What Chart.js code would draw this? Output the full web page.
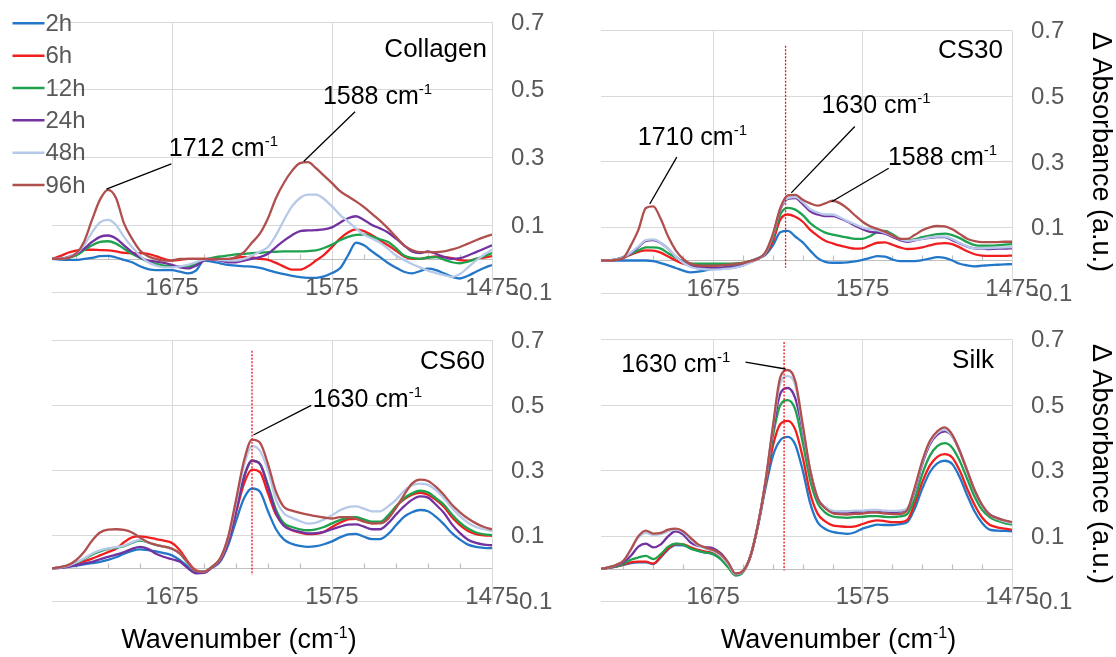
<!DOCTYPE html>
<html>
<head>
<meta charset="utf-8">
<title>FTIR difference spectra</title>
<script src="https://cdn.jsdelivr.net/npm/chart.js@4.4.1/dist/chart.umd.min.js"></script>
<style>
  html, body { margin: 0; padding: 0; background: #ffffff; }
  #figure { position: relative; width: 1116px; height: 657px; overflow: hidden; }
  #figure canvas { position: absolute; }
</style>
</head>
<body>
<div id="figure">
  <canvas id="collagen" width="558" height="320" style="left:0px; top:0px;"></canvas>
  <canvas id="cs30" width="558" height="320" style="left:558px; top:0px;"></canvas>
  <canvas id="cs60" width="558" height="337" style="left:0px; top:320px;"></canvas>
  <canvas id="silk" width="558" height="337" style="left:558px; top:320px;"></canvas>
</div>
<script>
const wavenumbers = [
  1750, 1745, 1740, 1735, 1730, 1725, 1720, 1715, 1710, 1705,
  1700, 1695, 1690, 1685, 1680, 1675, 1670, 1665, 1660, 1655,
  1650, 1645, 1640, 1635, 1630, 1625, 1620, 1615, 1610, 1605,
  1600, 1595, 1590, 1585, 1580, 1575, 1570, 1565, 1560, 1555,
  1550, 1545, 1540, 1535, 1530, 1525, 1520, 1515, 1510, 1505,
  1500, 1495, 1490, 1485, 1480, 1475
];

const seriesLabels = ['2h', '6h', '12h', '24h', '48h', '96h'];
const xTicks = [1475, 1575, 1675];
const yTicks = [-0.1, 0.1, 0.3, 0.5, 0.7];
const minorTicks = [1495, 1515, 1535, 1555, 1595, 1615, 1635, 1655, 1695, 1715, 1735];

// Collagen
const collagen2h = [
  0, -0.002, -0.003, -0.003, 0, 0.003, 0.008, 0.009, 0.004, -0.003,
  -0.01, -0.022, -0.03, -0.033, -0.033, -0.033, -0.038, -0.043, -0.035, -0.005,
  -0.008, -0.013, -0.018, -0.02, -0.022, -0.023, -0.027, -0.033, -0.04, -0.045,
  -0.05, -0.054, -0.056, -0.056, -0.052, -0.042, -0.028, 0.01, 0.048, 0.04,
  0.022, 0.005, -0.012, -0.026, -0.038, -0.043, -0.036, -0.029, -0.033, -0.043,
  -0.053, -0.058, -0.05, -0.038, -0.027, -0.018
];
const collagen6h = [
  0, 0.008, 0.018, 0.024, 0.027, 0.027, 0.026, 0.025, 0.022, 0.018,
  0.017, 0.017, 0.015, 0.008, 0, -0.005, -0.003, 0, 0, 0,
  -0.002, -0.003, -0.002, 0.003, 0.006, 0.004, 0, -0.003, -0.012, -0.023,
  -0.032, -0.032, -0.022, -0.005, 0.012, 0.035, 0.06, 0.078, 0.087, 0.082,
  0.07, 0.055, 0.04, 0.024, 0.007, 0, 0, 0.004, 0.007, 0.006,
  0.002, -0.004, -0.006, 0, 0.004, 0.008
];
const collagen12h = [
  0, 0, 0.003, 0.01, 0.025, 0.04, 0.05, 0.052, 0.045, 0.03,
  0.015, 0.003, -0.008, -0.015, -0.02, -0.022, -0.023, -0.022, -0.015, -0.003,
  0.003, 0.007, 0.01, 0.013, 0.015, 0.017, 0.018, 0.02, 0.021, 0.022,
  0.022, 0.022, 0.023, 0.025, 0.032, 0.042, 0.055, 0.065, 0.071, 0.072,
  0.066, 0.058, 0.05, 0.032, 0.01, 0.003, 0, 0.004, 0.005, -0.002,
  -0.01, -0.013, -0.008, 0, 0.008, 0.017
];
const collagen24h = [
  0, 0, 0.005, 0.015, 0.03, 0.05, 0.065, 0.069, 0.06, 0.04,
  0.02, 0.005, -0.005, -0.008, -0.012, -0.018, -0.025, -0.028, -0.02, -0.005,
  0, -0.005, -0.01, -0.01, -0.005, 0, 0.005, 0.015, 0.035, 0.054,
  0.07, 0.082, 0.084, 0.085, 0.087, 0.093, 0.107, 0.12, 0.126, 0.115,
  0.1, 0.09, 0.078, 0.06, 0.04, 0.022, 0.017, 0.022, 0.015, 0.005,
  0, 0.002, 0.01, 0.02, 0.03, 0.04
];
const collagen48h = [
  0, 0, 0.004, 0.015, 0.04, 0.078, 0.108, 0.115, 0.1, 0.065,
  0.035, 0.01, -0.01, -0.02, -0.025, -0.025, -0.022, -0.018, -0.01, -0.002,
  0, -0.003, -0.005, -0.005, 0, 0.01, 0.022, 0.035, 0.07, 0.115,
  0.155, 0.18, 0.19, 0.19, 0.177, 0.155, 0.13, 0.11, 0.09, 0.072,
  0.06, 0.048, 0.03, 0.01, -0.003, -0.015, -0.025, -0.035, -0.042, -0.048,
  -0.053, -0.045, -0.025, -0.005, 0.012, 0.027
];
const collagen96h = [
  0, 0, 0.002, 0.015, 0.05, 0.115, 0.175, 0.204, 0.18, 0.105,
  0.06, 0.025, 0.008, 0, -0.005, -0.005, 0, 0, 0, 0,
  0, 0, 0, 0.005, 0.02, 0.048, 0.075, 0.12, 0.18, 0.225,
  0.26, 0.283, 0.286, 0.268, 0.246, 0.224, 0.2, 0.185, 0.17, 0.153,
  0.133, 0.113, 0.09, 0.065, 0.04, 0.026, 0.02, 0.02, 0.02, 0.022,
  0.028, 0.035, 0.045, 0.055, 0.064, 0.072
];

// CS30
const cs30_2h = [
  0, 0, 0, 0, 0, 0, 0, -0.002, -0.008, -0.015,
  -0.023, -0.031, -0.036, -0.034, -0.03, -0.026, -0.023, -0.019, -0.015, -0.01,
  -0.002, 0.007, 0.017, 0.046, 0.086, 0.09, 0.073, 0.055, 0.03, 0.007,
  -0.004, -0.007, -0.007, -0.006, -0.003, 0.002, 0.008, 0.013, 0.012, 0.003,
  -0.002, -0.002, -0.002, 0.001, 0.006, 0.01, 0.008, 0, -0.01, -0.015,
  -0.018, -0.016, -0.014, -0.013, -0.012, -0.011
];
const cs30_6h = [
  0, 0, 0.002, 0.008, 0.018, 0.026, 0.031, 0.03, 0.024, 0.012,
  0, -0.01, -0.015, -0.016, -0.016, -0.015, -0.014, -0.012, -0.01, -0.007,
  -0.002, 0.005, 0.02, 0.058, 0.125, 0.14, 0.133, 0.118, 0.093, 0.075,
  0.06, 0.052, 0.045, 0.04, 0.036, 0.037, 0.046, 0.054, 0.055, 0.048,
  0.04, 0.035, 0.036, 0.04, 0.046, 0.051, 0.053, 0.05, 0.04, 0.028,
  0.019, 0.015, 0.014, 0.014, 0.014, 0.015
];
const cs30_12h = [
  0, 0, 0.003, 0.01, 0.02, 0.031, 0.04, 0.04, 0.036, 0.022,
  0.008, -0.002, -0.009, -0.01, -0.01, -0.01, -0.01, -0.01, -0.01, -0.007,
  -0.002, 0.005, 0.022, 0.068, 0.14, 0.16, 0.155, 0.138, 0.114, 0.097,
  0.085, 0.079, 0.074, 0.07, 0.066, 0.066, 0.074, 0.087, 0.09, 0.08,
  0.066, 0.061, 0.065, 0.071, 0.076, 0.08, 0.082, 0.077, 0.068, 0.056,
  0.047, 0.045, 0.045, 0.046, 0.048, 0.05
];
const cs30_24h = [
  0, 0, 0.003, 0.01, 0.022, 0.041, 0.06, 0.062, 0.053, 0.035,
  0.012, -0.005, -0.017, -0.021, -0.022, -0.022, -0.022, -0.021, -0.02, -0.015,
  -0.005, 0.005, 0.023, 0.075, 0.155, 0.188, 0.19, 0.172, 0.15, 0.14,
  0.135, 0.135, 0.128, 0.118, 0.106, 0.095, 0.087, 0.085, 0.082, 0.072,
  0.062, 0.057, 0.061, 0.066, 0.069, 0.071, 0.071, 0.062, 0.052, 0.042,
  0.037, 0.036, 0.035, 0.036, 0.036, 0.037
];
const cs30_48h = [
  0, 0, 0.003, 0.01, 0.024, 0.043, 0.062, 0.064, 0.054, 0.035,
  0.012, -0.007, -0.02, -0.025, -0.027, -0.028, -0.027, -0.025, -0.022, -0.016,
  -0.006, 0.005, 0.023, 0.077, 0.158, 0.19, 0.193, 0.178, 0.156, 0.146,
  0.14, 0.14, 0.131, 0.12, 0.11, 0.1, 0.096, 0.092, 0.085, 0.075,
  0.065, 0.06, 0.062, 0.066, 0.07, 0.073, 0.073, 0.065, 0.053, 0.043,
  0.037, 0.037, 0.038, 0.039, 0.04, 0.041
];
const cs30_96h = [
  0, 0, 0.002, 0.008, 0.046, 0.093, 0.16, 0.165, 0.126, 0.072,
  0.031, 0.005, -0.01, -0.015, -0.016, -0.016, -0.015, -0.013, -0.011, -0.008,
  -0.002, 0.006, 0.025, 0.08, 0.16, 0.198, 0.2, 0.185, 0.174, 0.167,
  0.174, 0.182, 0.174, 0.158, 0.137, 0.118, 0.104, 0.096, 0.088, 0.076,
  0.066, 0.066, 0.078, 0.092, 0.101, 0.105, 0.104, 0.095, 0.081, 0.066,
  0.059, 0.056, 0.056, 0.056, 0.057, 0.057
];

// CS60
const cs60_2h = [
  0, 0.002, 0.005, 0.008, 0.012, 0.016, 0.02, 0.026, 0.034, 0.045,
  0.054, 0.058, 0.056, 0.052, 0.047, 0.04, 0.025, 0.005, -0.012, -0.012,
  0.002, 0.02, 0.07, 0.145, 0.215, 0.245, 0.235, 0.175, 0.12, 0.088,
  0.075, 0.069, 0.066, 0.068, 0.074, 0.083, 0.095, 0.104, 0.106, 0.097,
  0.09, 0.09, 0.105, 0.132, 0.158, 0.172, 0.179, 0.175, 0.158, 0.135,
  0.108, 0.088, 0.073, 0.066, 0.063, 0.062
];
const cs60_6h = [
  0, 0.003, 0.008, 0.015, 0.022, 0.03, 0.04, 0.05, 0.06, 0.08,
  0.095, 0.098, 0.095, 0.09, 0.085, 0.078, 0.055, 0.02, -0.006, -0.01,
  0.004, 0.024, 0.08, 0.17, 0.26, 0.303, 0.295, 0.23, 0.165, 0.133,
  0.117, 0.11, 0.105, 0.106, 0.112, 0.127, 0.14, 0.15, 0.152, 0.145,
  0.138, 0.14, 0.158, 0.19, 0.212, 0.226, 0.232, 0.226, 0.21, 0.188,
  0.157, 0.133, 0.115, 0.105, 0.101, 0.1
];
const cs60_12h = [
  0, 0.003, 0.008, 0.017, 0.028, 0.042, 0.052, 0.06, 0.063, 0.068,
  0.078, 0.085, 0.08, 0.072, 0.067, 0.06, 0.045, 0.015, -0.008, -0.01,
  0.005, 0.026, 0.085, 0.18, 0.28, 0.33, 0.32, 0.255, 0.18, 0.138,
  0.127, 0.12, 0.117, 0.12, 0.127, 0.138, 0.148, 0.156, 0.157, 0.15,
  0.143, 0.143, 0.162, 0.19, 0.215, 0.23, 0.238, 0.233, 0.215, 0.195,
  0.165, 0.14, 0.122, 0.11, 0.104, 0.102
];
const cs60_24h = [
  0, 0.002, 0.005, 0.01, 0.015, 0.02, 0.028, 0.035, 0.042, 0.05,
  0.06, 0.066, 0.06, 0.045, 0.035, 0.028, 0.02, 0, -0.015, -0.014,
  0.003, 0.024, 0.08, 0.175, 0.28, 0.33, 0.32, 0.25, 0.17, 0.13,
  0.118, 0.112, 0.107, 0.108, 0.112, 0.12, 0.128, 0.134, 0.135, 0.128,
  0.12, 0.12, 0.138, 0.165, 0.19, 0.21, 0.221, 0.217, 0.195, 0.17,
  0.135, 0.108, 0.088, 0.078, 0.073, 0.071
];
const cs60_48h = [
  0, 0.003, 0.008, 0.018, 0.03, 0.045, 0.055, 0.061, 0.065, 0.07,
  0.08, 0.088, 0.08, 0.072, 0.066, 0.06, 0.045, 0.015, -0.008, -0.01,
  0.005, 0.028, 0.092, 0.2, 0.315, 0.375, 0.36, 0.3, 0.21, 0.168,
  0.155, 0.145, 0.137, 0.14, 0.15, 0.163, 0.178, 0.188, 0.19, 0.183,
  0.175, 0.175, 0.19, 0.21, 0.238, 0.255, 0.26, 0.256, 0.24, 0.215,
  0.185, 0.16, 0.14, 0.127, 0.12, 0.115
];
const cs60_96h = [
  0, 0.004, 0.01, 0.025, 0.05, 0.085, 0.11, 0.119, 0.12, 0.118,
  0.11, 0.095, 0.08, 0.072, 0.067, 0.06, 0.045, 0.017, -0.008, -0.01,
  0.005, 0.03, 0.095, 0.21, 0.33, 0.395, 0.385, 0.32, 0.235, 0.188,
  0.177, 0.17, 0.165, 0.16, 0.156, 0.153, 0.157, 0.157, 0.152, 0.143,
  0.138, 0.138, 0.152, 0.185, 0.225, 0.26, 0.272, 0.268, 0.25, 0.225,
  0.195, 0.172, 0.153, 0.138, 0.127, 0.12
];

// Silk
const silk2h = [
  0, 0.003, 0.007, 0.012, 0.018, 0.02, 0.02, 0.015, 0.035, 0.06,
  0.073, 0.072, 0.063, 0.055, 0.05, 0.045, 0.032, 0.008, -0.016, -0.008,
  0.038, 0.13, 0.245, 0.345, 0.393, 0.403, 0.379, 0.3, 0.2, 0.142,
  0.122, 0.113, 0.109, 0.107, 0.112, 0.123, 0.13, 0.135, 0.134, 0.134,
  0.137, 0.143, 0.185, 0.245, 0.295, 0.322, 0.33, 0.32, 0.28, 0.225,
  0.175, 0.14, 0.12, 0.117, 0.116, 0.115
];
const silk6h = [
  0, 0.003, 0.007, 0.013, 0.02, 0.022, 0.022, 0.016, 0.038, 0.062,
  0.076, 0.075, 0.066, 0.058, 0.053, 0.048, 0.035, 0.01, -0.016, -0.008,
  0.038, 0.133, 0.255, 0.375, 0.442, 0.452, 0.425, 0.34, 0.23, 0.168,
  0.145, 0.133, 0.13, 0.128, 0.13, 0.137, 0.144, 0.148, 0.146, 0.143,
  0.143, 0.15, 0.2, 0.265, 0.315, 0.342, 0.35, 0.34, 0.3, 0.245,
  0.195, 0.157, 0.135, 0.127, 0.123, 0.12
];
const silk12h = [
  0, 0.004, 0.008, 0.015, 0.028, 0.035, 0.04, 0.03, 0.045, 0.068,
  0.077, 0.074, 0.062, 0.055, 0.05, 0.045, 0.03, 0.005, -0.02, -0.01,
  0.038, 0.133, 0.26, 0.405, 0.5, 0.515, 0.486, 0.385, 0.27, 0.2,
  0.172, 0.16, 0.157, 0.156, 0.158, 0.159, 0.161, 0.161, 0.159, 0.158,
  0.16, 0.168, 0.215, 0.29, 0.345, 0.375, 0.384, 0.37, 0.33, 0.275,
  0.22, 0.18, 0.158, 0.147, 0.14, 0.135
];
const silk24h = [
  0, 0.005, 0.01, 0.02, 0.04, 0.068, 0.077, 0.066, 0.075, 0.1,
  0.115, 0.105, 0.08, 0.07, 0.066, 0.063, 0.048, 0.02, -0.016, -0.008,
  0.04, 0.135, 0.265, 0.42, 0.535, 0.552, 0.52, 0.42, 0.3, 0.215,
  0.188, 0.175, 0.173, 0.172, 0.174, 0.175, 0.178, 0.178, 0.175, 0.174,
  0.175, 0.183, 0.24, 0.32, 0.38, 0.41, 0.42, 0.405, 0.36, 0.3,
  0.24, 0.195, 0.167, 0.155, 0.147, 0.142
];
const silk48h = [
  0, 0.005, 0.012, 0.025, 0.058, 0.095, 0.11, 0.104, 0.106, 0.115,
  0.12, 0.112, 0.09, 0.072, 0.062, 0.055, 0.04, 0.015, -0.016, -0.008,
  0.04, 0.135, 0.265, 0.43, 0.568, 0.588, 0.56, 0.43, 0.3, 0.215,
  0.188, 0.178, 0.176, 0.176, 0.178, 0.178, 0.18, 0.18, 0.178, 0.177,
  0.178, 0.185, 0.245, 0.325, 0.385, 0.415, 0.425, 0.405, 0.36, 0.3,
  0.24, 0.195, 0.165, 0.153, 0.145, 0.14
];
const silk96h = [
  0, 0.005, 0.012, 0.025, 0.06, 0.1, 0.117, 0.108, 0.11, 0.12,
  0.123, 0.115, 0.095, 0.075, 0.065, 0.058, 0.045, 0.02, -0.014, -0.006,
  0.04, 0.135, 0.265, 0.435, 0.585, 0.607, 0.573, 0.44, 0.3, 0.215,
  0.185, 0.17, 0.167, 0.166, 0.168, 0.169, 0.172, 0.172, 0.169, 0.167,
  0.168, 0.18, 0.25, 0.33, 0.39, 0.42, 0.432, 0.41, 0.36, 0.3,
  0.24, 0.195, 0.165, 0.155, 0.148, 0.143
];

// ---- styling ----
const FONT = '"Liberation Sans", Arial, sans-serif';
const GREY = '#595959';
const GRID = '#D9D9D9';
const seriesColors = ['#2377C9', '#F01E1E', '#1EA24D', '#7232A0', '#B7C9E8', '#B0504E'];

// Layout and labels of each panel (annotation anchors are in data units)
const panels = {
  collagen: {
    name: 'Collagen', nameAt: [487, 57],
    series: [collagen2h, collagen6h, collagen12h, collagen24h, collagen48h, collagen96h],
    padding: { left: 52, top: 22, right: 0, bottom: 0 }, yWidth: 66, xHeight: 27.3,
    legend: true,
    notes: [
      { num: '1712', at: [1677, 0.305], align: 'left', from: [1716, 0.206], to: [1675.4, 0.281] },
      { num: '1588', at: [1580.7, 0.458], align: 'left', from: [1592.7, 0.288], to: [1560.6, 0.435] }
    ]
  },
  cs30: {
    name: 'CS30', nameAt: [445, 58],
    series: [cs30_2h, cs30_6h, cs30_12h, cs30_24h, cs30_48h, cs30_96h],
    padding: { left: 43, top: 30.7, right: 0, bottom: 0 }, yWidth: 104, xHeight: 26.7,
    marker: { at: 1626.5, bottom: -0.022, top: 0.654 },
    yTitle: [542, 152],
    notes: [
      { num: '1710', at: [1725.4, 0.352], align: 'left', from: [1717.4, 0.172], to: [1699.3, 0.315] },
      { num: '1630', at: [1602.5, 0.45], align: 'left', from: [1622.7, 0.206], to: [1580.2, 0.408] },
      { num: '1588', at: [1558, 0.291], align: 'left', from: [1595.7, 0.179], to: [1557.5, 0.281] }
    ]
  },
  cs60: {
    name: 'CS60', nameAt: [485, 49.3],
    series: [cs60_2h, cs60_6h, cs60_12h, cs60_24h, cs60_48h, cs60_96h],
    padding: { left: 52, top: 20.1, right: 0, bottom: 0 }, yWidth: 66, xHeight: 56,
    marker: { at: 1625, bottom: -0.02, top: 0.667 },
    xTitle: [239, 328],
    notes: [
      { num: '1630', at: [1587, 0.496], align: 'left', from: [1624.1, 0.409], to: [1588, 0.5] }
    ]
  },
  silk: {
    name: 'Silk', nameAt: [436, 48.3],
    series: [silk2h, silk6h, silk12h, silk24h, silk48h, silk96h],
    padding: { left: 43, top: 19.5, right: 0, bottom: 0 }, yWidth: 104, xHeight: 55.3,
    marker: { at: 1627.5, bottom: -0.005, top: 0.692 },
    xTitle: [280.5, 328], yTitle: [542, 144],
    notes: [
      { num: '1630', at: [1663.4, 0.601], align: 'right', from: [1653.3, 0.631], to: [1626.5, 0.61] }
    ]
  }
};

// Text with a raised "-1" exponent, e.g. "1588 cm-1"
function superText(ctx, base, sup, tail, x, y, size, align, color) {
  const big = size + 'px ' + FONT;
  const small = Math.round(size * 0.6) + 'px ' + FONT;
  ctx.font = big;
  const w1 = ctx.measureText(base).width;
  const w3 = tail ? ctx.measureText(tail).width : 0;
  ctx.font = small;
  const w2 = ctx.measureText(sup).width;
  const total = w1 + w2 + w3;
  let sx = x;
  if (align === 'right') sx = x - total;
  if (align === 'center') sx = x - total / 2;
  ctx.fillStyle = color;
  ctx.textAlign = 'left';
  ctx.textBaseline = 'alphabetic';
  ctx.font = big;
  ctx.fillText(base, sx, y);
  ctx.font = small;
  ctx.fillText(sup, sx + w1, y - size * 0.38);
  if (tail) {
    ctx.font = big;
    ctx.fillText(tail, sx + w1 + w2, y);
  }
}

const decorations = {
  id: 'decorations',
  beforeDatasetsDraw(chart) {
    const { ctx, chartArea: area, scales: { x, y } } = chart;
    const y0 = Math.round(y.getPixelForValue(0)) + 0.5;
    ctx.save();
    ctx.strokeStyle = '#BFBFBF';
    ctx.lineWidth = 1.2;
    ctx.beginPath();
    ctx.moveTo(area.left, y0);
    ctx.lineTo(area.right, y0);
    minorTicks.forEach(t => {
      const px = Math.round(x.getPixelForValue(t)) + 0.5;
      ctx.moveTo(px, y0);
      ctx.lineTo(px, y0 - 5);
    });
    ctx.stroke();
    ctx.restore();
  },
  afterDatasetsDraw(chart) {
    const p = panels[chart.canvas.id];
    const { ctx, scales: { x, y } } = chart;
    ctx.save();
    if (p.marker) {
      const mx = x.getPixelForValue(p.marker.at);
      ctx.strokeStyle = '#E8141B';
      ctx.lineWidth = 1.3;
      ctx.setLineDash([2, 1.5]);
      ctx.beginPath();
      ctx.moveTo(mx, y.getPixelForValue(p.marker.top));
      ctx.lineTo(mx, y.getPixelForValue(p.marker.bottom));
      ctx.stroke();
      ctx.setLineDash([]);
    }
    p.notes.forEach(n => {
      ctx.strokeStyle = '#000000';
      ctx.lineWidth = 1.3;
      ctx.beginPath();
      ctx.moveTo(x.getPixelForValue(n.from[0]), y.getPixelForValue(n.from[1]));
      ctx.lineTo(x.getPixelForValue(n.to[0]), y.getPixelForValue(n.to[1]));
      ctx.stroke();
      superText(ctx, n.num + ' cm', '-1', '', x.getPixelForValue(n.at[0]), y.getPixelForValue(n.at[1]), 25, n.align, '#000000');
    });
    ctx.restore();
  },
  afterDraw(chart) {
    const p = panels[chart.canvas.id];
    const { ctx, chartArea: area, scales: { x, y } } = chart;
    ctx.save();

    // tick labels: wavenumbers sit just above the bottom gridline, absorbance on the right
    ctx.fillStyle = GREY;
    ctx.font = '24px ' + FONT;
    ctx.textAlign = 'center';
    ctx.textBaseline = 'middle';
    x.ticks.forEach(t => {
      ctx.fillText(String(t.value), x.getPixelForValue(t.value), area.bottom - 4);
    });
    ctx.textAlign = 'left';
    y.ticks.forEach(t => {
      ctx.fillText(t.value.toFixed(1), area.right + 19, y.getPixelForValue(t.value) + 1);
    });

    // panel name
    ctx.fillStyle = '#000000';
    ctx.font = '26px ' + FONT;
    ctx.textAlign = 'right';
    ctx.textBaseline = 'alphabetic';
    ctx.fillText(p.name, p.nameAt[0], p.nameAt[1]);

    // legend (first panel only)
    if (p.legend) {
      chart.data.datasets.forEach((ds, i) => {
        const ly = 23.3 + i * 32.35;
        ctx.strokeStyle = ds.borderColor;
        ctx.lineWidth = 2.5;
        ctx.beginPath();
        ctx.moveTo(12.5, ly);
        ctx.lineTo(44.5, ly);
        ctx.stroke();
        ctx.fillStyle = GREY;
        ctx.font = '24px ' + FONT;
        ctx.textAlign = 'left';
        ctx.textBaseline = 'middle';
        ctx.fillText(ds.label, 45.5, ly + 1);
      });
    }

    if (p.xTitle) {
      superText(ctx, 'Wavenumber (cm', '-1', ')', p.xTitle[0], p.xTitle[1], 27, 'center', '#000000');
    }
    if (p.yTitle) {
      ctx.translate(p.yTitle[0], p.yTitle[1]);
      ctx.rotate(Math.PI / 2);
      ctx.fillStyle = '#000000';
      ctx.font = '27px ' + FONT;
      ctx.textAlign = 'center';
      ctx.textBaseline = 'middle';
      ctx.fillText('\u0394 Absorbance (a.u.)', 0, 0);
    }
    ctx.restore();
  }
};

Chart.defaults.font.family = FONT;

Object.keys(panels).forEach(id => {
  const p = panels[id];
  new Chart(document.getElementById(id), {
    type: 'line',
    data: {
      datasets: p.series.map((values, i) => ({
        label: seriesLabels[i],
        data: wavenumbers.map((w, k) => ({ x: w, y: values[k] })),
        borderColor: seriesColors[i],
        backgroundColor: seriesColors[i],
        borderWidth: 2.3,
        pointRadius: 0,
        fill: false,
        cubicInterpolationMode: 'monotone',
        order: seriesLabels.length - i
      }))
    },
    options: {
      responsive: false,
      animation: false,
      devicePixelRatio: 1,
      layout: { padding: p.padding },
      plugins: { legend: { display: false }, tooltip: { enabled: false }, title: { display: false } },
      scales: {
        x: {
          type: 'linear', reverse: true, min: 1475, max: 1750,
          afterBuildTicks: s => { s.ticks = xTicks.map(v => ({ value: v })); },
          afterFit: s => { s.height = p.xHeight; },
          grid: { color: GRID, lineWidth: 1, drawTicks: false },
          border: { display: false },
          ticks: { display: false, maxRotation: 0, autoSkip: false }
        },
        y: {
          type: 'linear', position: 'right', min: -0.1, max: 0.7,
          afterBuildTicks: s => { s.ticks = yTicks.map(v => ({ value: v })); },
          afterFit: s => { s.width = p.yWidth; },
          grid: { color: GRID, lineWidth: 1, drawTicks: false },
          border: { display: false },
          ticks: { display: false }
        }
      }
    },
    plugins: [decorations]
  });
});
</script>
</body>
</html>
